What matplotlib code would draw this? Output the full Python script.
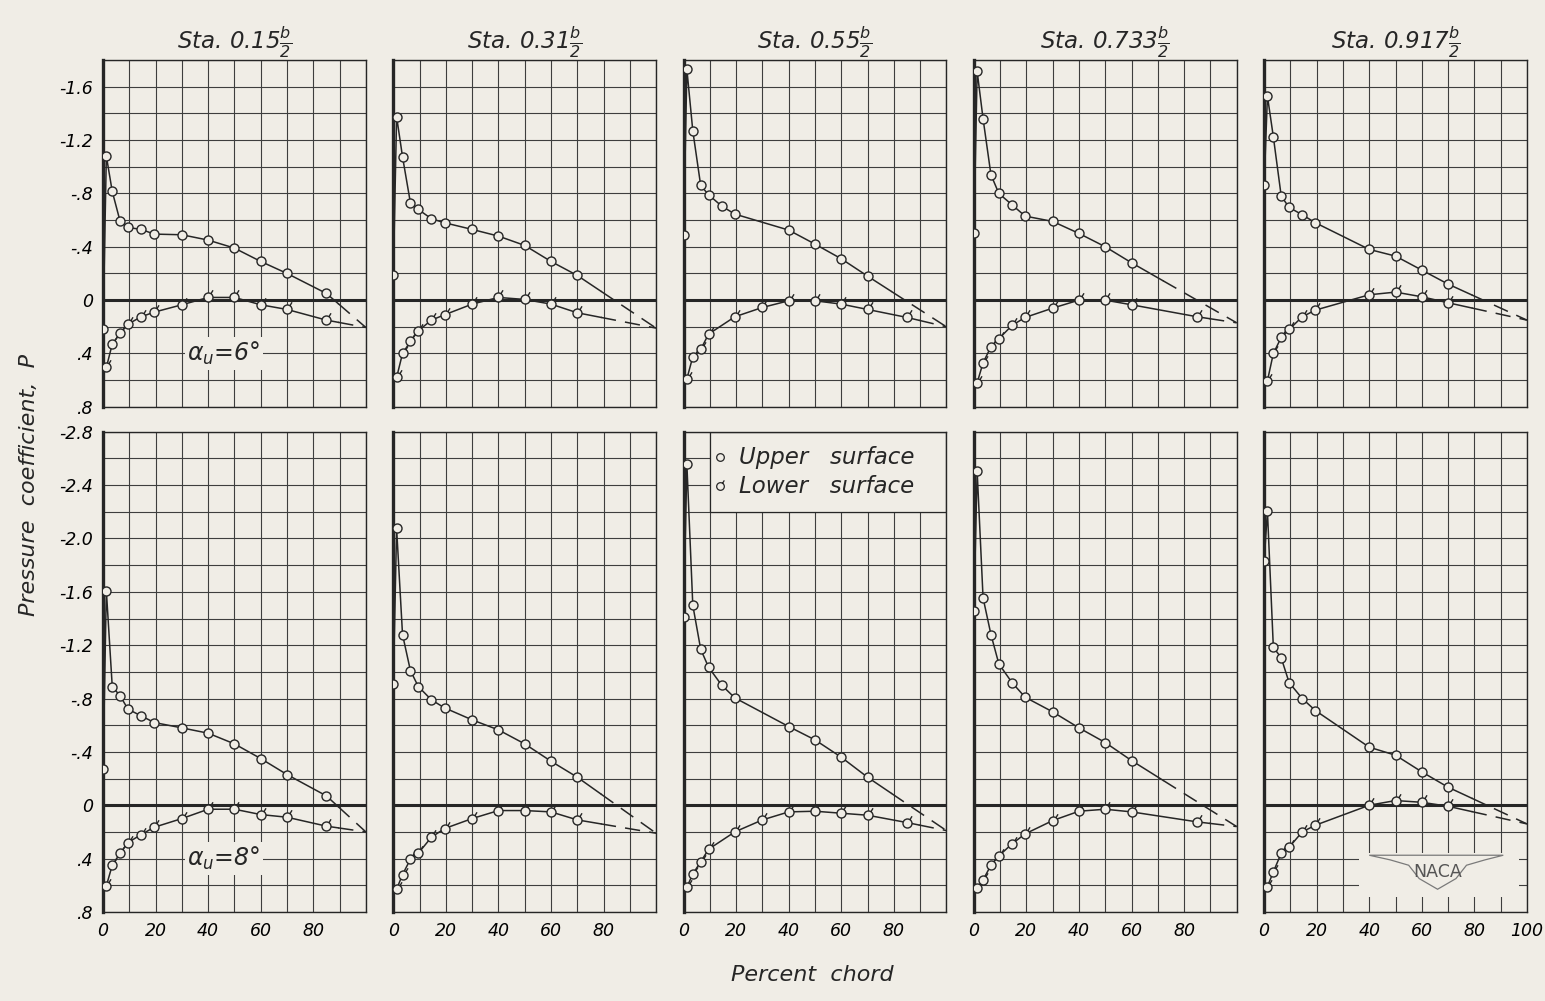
import numpy as np
import matplotlib
matplotlib.use('Agg')
import matplotlib.pyplot as plt
from matplotlib.path import Path
from matplotlib.patches import Rectangle, Polygon

# orifice stations, percent chord
stations = [0, 1.25, 3.5, 6.5, 9.5, 14.5, 19.5, 30, 40, 50, 60, 70, 85]
stations_lower = stations[1:]
nan = np.nan

titles = [r'Sta. 0.15$\frac{b}{2}$', r'Sta. 0.31$\frac{b}{2}$', r'Sta. 0.55$\frac{b}{2}$',
          r'Sta. 0.733$\frac{b}{2}$', r'Sta. 0.917$\frac{b}{2}$']

# alpha_u = 6 deg, upper surface
up6_015 = [0.22, -1.08, -0.815, -0.59, -0.545, -0.53, -0.495, -0.49, -0.45, -0.39, -0.29, -0.20, -0.05]
up6_031 = [-0.185, -1.375, -1.075, -0.73, -0.68, -0.61, -0.58, -0.53, -0.48, -0.41, -0.29, -0.185, nan]
up6_055 = [-0.49, -1.73, -1.27, -0.86, -0.79, -0.705, -0.645, nan, -0.525, -0.42, -0.31, -0.18, nan]
up6_0733 = [-0.50, -1.715, -1.36, -0.94, -0.80, -0.715, -0.63, -0.59, -0.50, -0.40, -0.28, nan, nan]
up6_0917 = [-0.86, -1.53, -1.225, -0.78, -0.695, -0.64, -0.58, nan, -0.38, -0.33, -0.225, -0.12, nan]
# alpha_u = 6 deg, lower surface
lo6_015 = [0.505, 0.33, 0.25, 0.18, 0.125, 0.09, 0.035, -0.02, -0.02, 0.035, 0.07, 0.15]
lo6_031 = [0.58, 0.40, 0.31, 0.23, 0.15, 0.11, 0.03, -0.02, -0.005, 0.03, 0.095, nan]
lo6_055 = [0.59, 0.425, 0.37, 0.255, nan, 0.125, 0.055, 0.005, 0.005, 0.03, 0.07, 0.13]
lo6_0733 = [0.62, 0.47, 0.35, 0.29, 0.19, 0.13, 0.06, 0.0, 0.0, 0.035, nan, 0.125]
lo6_0917 = [0.605, 0.40, 0.28, 0.22, 0.125, 0.075, nan, -0.04, -0.06, -0.025, 0.02, nan]
te6 = [0.205, 0.21, 0.20, 0.17, 0.15]

# alpha_u = 8 deg, upper surface
up8_015 = [-0.27, -1.61, -0.89, -0.82, -0.72, -0.67, -0.62, -0.58, -0.54, -0.46, -0.35, -0.23, -0.07]
up8_031 = [-0.91, -2.075, -1.28, -1.01, -0.89, -0.79, -0.73, -0.64, -0.565, -0.46, -0.33, -0.21, nan]
up8_055 = [-1.41, -2.555, -1.50, -1.17, -1.035, -0.90, -0.805, nan, -0.59, -0.49, -0.36, -0.21, nan]
up8_0733 = [-1.46, -2.505, -1.555, -1.28, -1.06, -0.92, -0.81, -0.70, -0.58, -0.47, -0.335, nan, nan]
up8_0917 = [-1.83, -2.205, -1.185, -1.105, -0.92, -0.80, -0.71, nan, -0.435, -0.375, -0.25, -0.135, nan]
# alpha_u = 8 deg, lower surface
lo8_015 = [0.605, 0.45, 0.36, 0.28, 0.22, 0.165, 0.10, 0.03, 0.03, 0.07, 0.09, 0.157]
lo8_031 = [0.63, 0.52, 0.405, 0.36, 0.24, 0.175, 0.10, 0.04, 0.04, 0.05, 0.11, nan]
lo8_055 = [0.615, 0.515, 0.425, 0.33, nan, 0.20, 0.11, 0.05, 0.045, 0.06, 0.075, 0.13]
lo8_0733 = [0.62, 0.56, 0.45, 0.38, 0.29, 0.215, 0.115, 0.045, 0.03, 0.05, nan, 0.125]
lo8_0917 = [0.61, 0.50, 0.36, 0.315, 0.20, 0.15, nan, 0.0, -0.035, -0.022, 0.008, nan]
te8 = [0.20, 0.21, 0.19, 0.16, 0.14]

ytick_top = [-1.6, -1.2, -0.8, -0.4, 0, 0.4, 0.8]
ylabels_top = ['-1.6', '-1.2', '-.8', '-.4', '0', '.4', '.8']
ytick_bot = [-2.8, -2.4, -2.0, -1.6, -1.2, -0.8, -0.4, 0, 0.4, 0.8]
ylabels_bot = ['-2.8', '-2.4', '-2.0', '-1.6', '-1.2', '-.8', '-.4', '0', '.4', '.8']

PAPER = '#f0ede6'
INK = '#262626'
GRID = '#3e3e3e'

plt.rcParams['font.family'] = 'DejaVu Sans'
plt.rcParams['font.style'] = 'oblique'
plt.rcParams['mathtext.fontset'] = 'dejavusans'

# lower-surface symbol: open circle with a small flag
circ = Path.unit_circle()
flag = Path(np.concatenate([circ.vertices, [[0.55, 0.85], [1.0, 1.6]]]),
            np.concatenate([circ.codes, [Path.MOVETO, Path.LINETO]]))
MS_UP = 6.5
MS_LO = 6.5 * 1.6


def draw_curve(ax, x, p, te, marker, ms):
    x = np.asarray(x, float)
    p = np.asarray(p, float)
    ok = ~np.isnan(p)
    x, p = x[ok], p[ok]
    ax.plot(x, p, color=INK, lw=1.1, marker=marker, ms=ms, mfc=PAPER, mec=INK,
            mew=1.0, zorder=4)
    # faired out to the trailing edge, dashed past the last orifice
    xs = x[-1] + 0.3 * (100 - x[-1])
    ps = p[-1] + 0.3 * (te - p[-1])
    ax.plot([x[-1], xs], [p[-1], ps], color=INK, lw=1.1, zorder=3)
    ax.plot([xs, 100], [ps, te], color=INK, lw=1.1, dashes=(10, 6), zorder=3)


fig = plt.figure(figsize=(15.45, 10.01), dpi=100, facecolor=PAPER)
gs = fig.add_gridspec(2, 5, left=0.0667, right=0.9883, top=0.94, bottom=0.089,
                      wspace=0.1046, hspace=0.0605, height_ratios=[2.6, 3.6])

rows = [
    (-1.8, [up6_015, up6_031, up6_055, up6_0733, up6_0917],
     [lo6_015, lo6_031, lo6_055, lo6_0733, lo6_0917], te6, ytick_top, ylabels_top),
    (-2.8, [up8_015, up8_031, up8_055, up8_0733, up8_0917],
     [lo8_015, lo8_031, lo8_055, lo8_0733, lo8_0917], te8, ytick_bot, ylabels_bot),
]

axes = [[None] * 5, [None] * 5]
for r, (ytop, ups, los, tes, yt, yl) in enumerate(rows):
    for c in range(5):
        ax = fig.add_subplot(gs[r, c])
        axes[r][c] = ax
        ax.set_facecolor(PAPER)
        ax.set_xlim(0, 100)
        ax.set_ylim(0.8, ytop)
        ax.set_axisbelow(True)

        ax.set_xticks(np.arange(0, 101, 10), minor=True)
        ax.set_yticks(np.round(np.arange(ytop, 0.81, 0.2), 1), minor=True)
        if r == 1:
            xt = [0, 20, 40, 60, 80, 100] if c == 4 else [0, 20, 40, 60, 80]
            ax.set_xticks(xt, [str(v) for v in xt])
        else:
            ax.set_xticks([0, 20, 40, 60, 80], [])
        if c == 0:
            ax.set_yticks(yt, yl)
        else:
            ax.set_yticks(yt, [])
        ax.grid(which='both', color=GRID, lw=0.8)
        ax.tick_params(which='both', length=0, labelsize=12.5, pad=7)

        for s in ax.spines.values():
            s.set_color(INK)
            s.set_linewidth(1.0)
        ax.spines['left'].set_linewidth(2.4)
        ax.axhline(0, color=INK, lw=2.2, zorder=2.5)

        draw_curve(ax, stations, ups[c], tes[c], 'o', MS_UP)
        draw_curve(ax, stations_lower, los[c], tes[c], flag, MS_LO)

        if r == 0:
            ax.set_title(titles[c], fontsize=16.5, pad=7, color=INK)

axes[0][0].text(46, 0.40, r'$\alpha_u$=6°', fontsize=17, ha='center', va='center',
                color=INK, zorder=5, bbox=dict(fc=PAPER, ec='none', pad=2))
axes[1][0].text(46, 0.40, r'$\alpha_u$=8°', fontsize=17, ha='center', va='center',
                color=INK, zorder=5, bbox=dict(fc=PAPER, ec='none', pad=2))

# symbol key
key = axes[1][2]
key.add_patch(Rectangle((10, -2.8), 90, 0.6, fc=PAPER, ec=INK, lw=0.9, zorder=2))
key.plot(14, -2.61, marker='o', ms=5.5, mfc=PAPER, mec=INK, mew=0.9, zorder=4)
key.plot(14, -2.39, marker=flag, ms=5.5 * 1.6, mfc=PAPER, mec=INK, mew=0.9, zorder=4)
key.text(21, -2.61, 'Upper   surface', fontsize=16.5, va='center', color=INK, zorder=5)
key.text(21, -2.39, 'Lower   surface', fontsize=16.5, va='center', color=INK, zorder=5)

# NACA wings
logo = axes[1][4]
logo.add_patch(Rectangle((36, 0.36), 61, 0.33, fc=PAPER, ec='none', zorder=2))
wing = [(40, 0.375), (91, 0.375), (84, 0.41), (77, 0.45), (73, 0.55), (66, 0.63),
        (59, 0.55), (55, 0.45), (48, 0.41)]
logo.add_patch(Polygon(wing, closed=True, fill=False, ec='#7a7a7a', lw=0.9, zorder=3))
logo.text(66, 0.50, 'NACA', fontsize=12.5, style='normal', ha='center', va='center',
          color='#555555', zorder=5)

fig.text(0.019, 0.515, 'Pressure  coefficient,  P', rotation=90, fontsize=16,
         ha='center', va='center', color=INK)
fig.text(0.5256, 0.016, 'Percent  chord', fontsize=16, ha='center', va='bottom',
         color=INK)

fig.savefig('out.png', dpi=100, facecolor=PAPER)
